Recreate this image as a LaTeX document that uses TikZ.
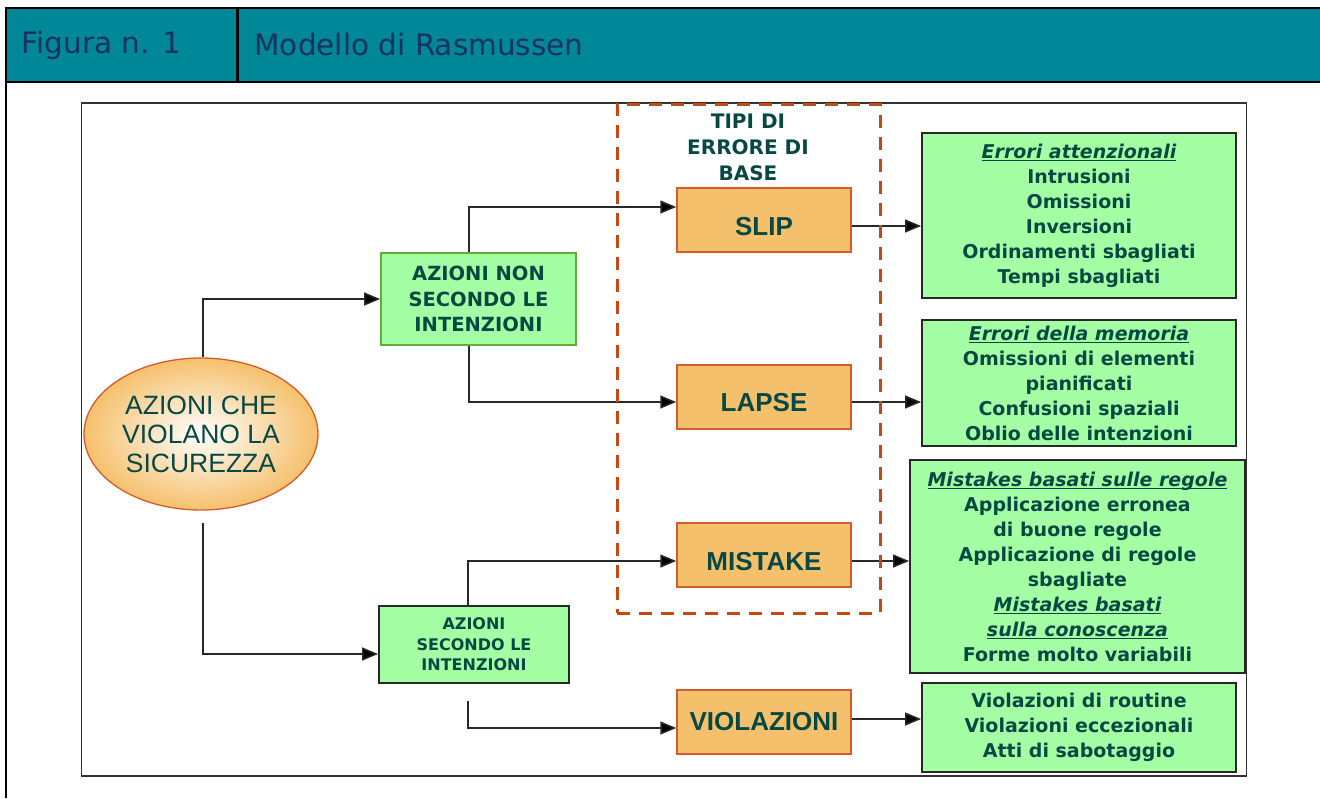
\documentclass[tikz,border=0pt]{standalone}
\usepackage{fontspec}
\setmainfont{DejaVu Sans}
\newfontfamily\arialf{Liberation Sans}
\usetikzlibrary{arrows.meta,shapes.geometric}
\definecolor{teal0}{RGB}{0,135,152}
\definecolor{navy0}{RGB}{22,50,95}
\definecolor{txt}{RGB}{8,72,68}
\definecolor{gfill}{RGB}{164,255,164}
\definecolor{gborder}{RGB}{95,175,55}
\definecolor{ofill}{RGB}{245,192,108}
\definecolor{oborder}{RGB}{212,92,40}
\definecolor{dashc}{RGB}{200,72,20}
\definecolor{linec}{RGB}{40,40,40}
\newcommand\myul[1]{\leavevmode\setbox0\hbox{#1}\rlap{\copy0}\rule[-3pt]{\wd0}{1.4pt}}
\newcommand\lowered[2]{\raisebox{-#1}[\height][0pt]{#2}}
\begin{document}
\begin{tikzpicture}[x=1pt,y=-1pt,
  conn/.style={draw=linec, line width=1.5pt, -{Triangle[length=16pt,width=13pt,fill=black]}},
  obox/.style={draw=oborder, fill=ofill, line width=1.5pt, minimum width=174pt, minimum height=64pt, inner sep=0pt, font=\arialf\bfseries\fontsize{26}{30}\selectfont, text=txt},
  gbox/.style={draw=linec, fill=gfill, line width=1.8pt, inner sep=0pt, align=center, text=txt, font=\bfseries\fontsize{19}{25}\selectfont},
  hdr/.style={anchor=west, text=navy0, font=\fontsize{29.5}{34}\selectfont}
]
\useasboundingbox (0,0) rectangle (1320,798);
% header
\fill[teal0] (7,8) rectangle (1320,82);
\draw[line width=2.5pt] (5,8) -- (1320,8);
\draw[line width=2.5pt] (5,82) -- (1320,82);
\draw[line width=2.5pt] (6,6.8) -- (6,798);
\draw[line width=2.5pt] (237.5,8) -- (237.5,82);
\node[hdr] (fig) at (18,45) {Figura n. 1};
\node[hdr] (mod) at (251,45) {Modello di Rasmussen};
% inner frame
\draw[draw=black!80, line width=1.6pt] (81.5,103) rectangle (1246.5,776);
% nodes
\node[ellipse, minimum width=234pt, minimum height=152pt, inner sep=0pt, draw=oborder, line width=1.3pt, inner color=white, outer color=ofill, align=center, font=\arialf\fontsize{26.5}{29}\selectfont, text=txt] (ell) at (201,434) {AZIONI CHE\\VIOLANO LA\\SICUREZZA};
\node[gbox, draw=gborder, minimum width=195pt, minimum height=92pt, font=\bfseries\fontsize{19.5}{25.5}\selectfont] (nonint) at (478.5,299) {AZIONI NON\\SECONDO LE\\INTENZIONI};
\node[gbox, minimum width=190pt, minimum height=77pt, font=\bfseries\fontsize{16}{20.5}\selectfont] (secint) at (474,644.5) {AZIONI\\SECONDO LE\\INTENZIONI};
\node[align=center, text=txt, font=\bfseries\fontsize{20}{26}\selectfont] (tipi) at (748,147) {TIPI DI\\ERRORE DI\\BASE};
\node[obox] (slip) at (764,220) {\lowered{6pt}{SLIP}};
\node[obox] (lapse) at (764,397) {\lowered{5pt}{LAPSE}};
\node[obox] (mistake) at (764,555) {\lowered{6pt}{MISTAKE}};
\node[obox] (viol) at (764,722) {VIOLAZIONI};
\node[gbox, minimum width=314pt, minimum height=165pt] (att) at (1079,215.5) {\myul{\itshape Errori attenzionali}\\Intrusioni\\Omissioni\\Inversioni\\Ordinamenti sbagliati\\Tempi sbagliati};
\node[gbox, minimum width=314pt, minimum height=126pt] (mem) at (1079,383) {\myul{\itshape Errori della memoria}\\Omissioni di elementi\\pianificati\\Confusioni spaziali\\Oblio delle intenzioni};
\node[gbox, minimum width=335pt, minimum height=213pt] (mis) at (1077.5,566.5) {\myul{\itshape Mistakes basati sulle regole}\\Applicazione erronea\\di buone regole\\Applicazione di regole\\sbagliate\\\myul{\itshape Mistakes basati}\\\myul{\itshape sulla conoscenza}\\Forme molto variabili};
\node[gbox, minimum width=314pt, minimum height=89pt] (vio) at (1079,727.5) {Violazioni di routine\\Violazioni eccezionali\\Atti di sabotaggio};
% connectors
\draw[conn] ([xshift=2pt]ell.north) |- (nonint.west);
\draw[conn] ([xshift=-9.5pt]nonint.north) |- ([yshift=13pt]slip.west);
\draw[conn] ([xshift=-9.5pt]nonint.south) |- ([yshift=-5pt]lapse.west);
\coordinate (eb) at ([xshift=2pt,yshift=-12pt]ell.south);
\draw[conn] (eb) |- ([yshift=-9.5pt]secint.west);
\draw[conn] ([xshift=-6pt]secint.north) |- ([yshift=-6pt]mistake.west);
\coordinate (sb) at ([xshift=-6pt,yshift=-17pt]secint.south);
\draw[conn] (sb) |- ([yshift=-6pt]viol.west);
\coordinate (r1) at ([yshift=-6pt]slip.east);
\draw[conn] (r1) -- (r1 -| att.west);
\coordinate (r2) at ([yshift=-5pt]lapse.east);
\draw[conn] (r2) -- (r2 -| mem.west);
\coordinate (r3) at ([yshift=-6pt]mistake.east);
\draw[conn] (r3) -- (r3 -| mis.west);
\coordinate (r4) at ([yshift=3pt]viol.east);
\draw[conn] (r4) -- (r4 -| vio.west);
% dashed group
\node[draw=dashc, dash pattern=on 13pt off 9pt, line width=3pt, minimum width=263pt, minimum height=509pt, inner sep=0pt] (grp) at (748.5,358.5) {};
\end{tikzpicture}
\end{document}
